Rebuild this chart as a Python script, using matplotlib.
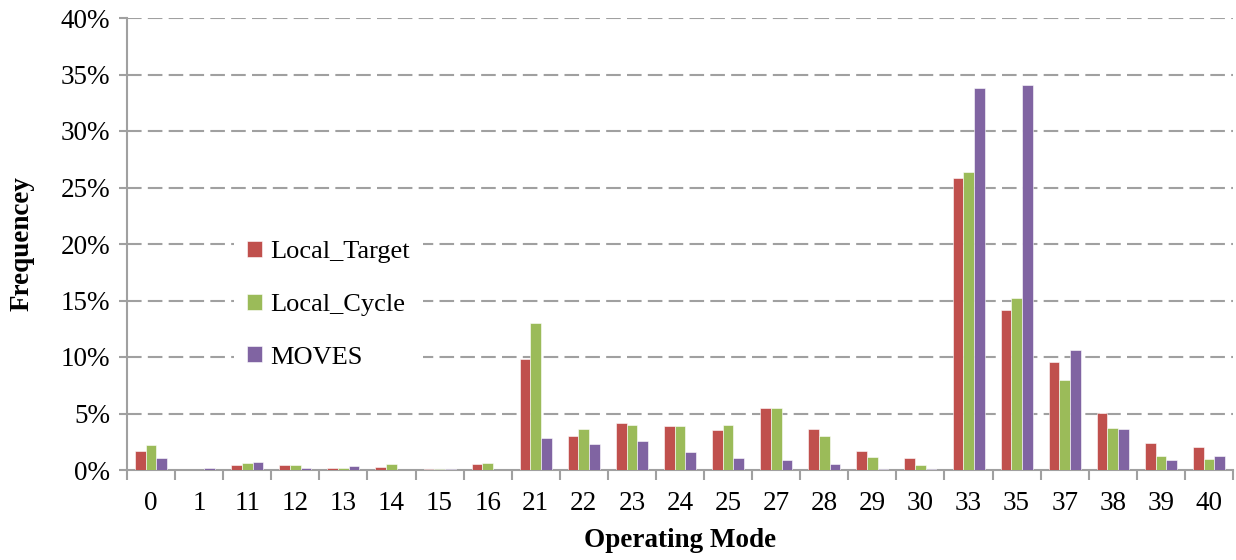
import numpy as np
import matplotlib.pyplot as plt
from matplotlib.ticker import FuncFormatter, MultipleLocator

# Operating mode bins and frequency shares (%)
modes = ['0', '1', '11', '12', '13', '14', '15', '16', '21', '22', '23', '24',
         '25', '27', '28', '29', '30', '33', '35', '37', '38', '39', '40']
local_target = [1.7, 0.0, 0.4, 0.4, 0.15, 0.25, 0.1, 0.55, 9.8, 3.05, 4.15, 3.9,
                3.5, 5.5, 3.6, 1.7, 1.05, 25.85, 14.2, 9.6, 5.05, 2.35, 2.0]
local_cycle = [2.25, 0.0, 0.65, 0.4, 0.15, 0.5, 0.08, 0.65, 13.0, 3.6, 3.95, 3.9,
               3.95, 5.45, 3.0, 1.15, 0.45, 26.4, 15.25, 8.0, 3.75, 1.25, 1.0]
moves = [1.1, 0.2, 0.7, 0.15, 0.33, 0.0, 0.08, 0.0, 2.85, 2.3, 2.55, 1.6,
         1.1, 0.9, 0.5, 0.12, 0.05, 33.8, 34.1, 10.65, 3.65, 0.9, 1.25]

colors = ['#C0504D', '#9BBB59', '#8064A2']
names = ['Local_Target', 'Local_Cycle', 'MOVES']

plt.rcParams['font.family'] = ['Liberation Serif', 'DejaVu Serif']

fig = plt.figure(figsize=(12.36, 5.6), dpi=100)
ax = fig.add_axes([127 / 1236, 1 - 470 / 560, (1233 - 127) / 1236, (470 - 18) / 560])

x = np.arange(len(modes))
w = 0.222
for i, (vals, c, n) in enumerate(zip([local_target, local_cycle, moves], colors, names)):
    ax.bar(x + (i - 1) * w, vals, width=w, color=c, label=n,
           edgecolor='white', linewidth=0.4, zorder=3)

ax.set_xlim(-0.5, len(modes) - 0.5)
ax.set_ylim(0, 40)
ax.yaxis.set_major_locator(MultipleLocator(5))
ax.yaxis.set_major_formatter(FuncFormatter(lambda v, p: f'{v:.0f}%'))
ax.set_xticks(x)
ax.set_xticklabels(modes)
ax.set_xticks(np.arange(-0.5, len(modes), 1), minor=True)
ax.tick_params(axis='x', which='major', length=0, pad=15, labelsize=19.5)
ax.tick_params(axis='x', which='minor', length=7, color='#A0A0A0', width=1.5)
ax.tick_params(axis='y', length=6, color='#A0A0A0', width=1.5, labelsize=19.5, pad=6)

for v in range(5, 41, 5):
    ax.axhline(v, color='#A0A0A0', linestyle=(0, (7, 3)), linewidth=1.5, zorder=1)

for s in ['top', 'right']:
    ax.spines[s].set_visible(False)
for s in ['left', 'bottom']:
    ax.spines[s].set_color('#A0A0A0')
    ax.spines[s].set_linewidth(1.5)

ax.set_xlabel('Operating Mode', fontsize=19.5, fontweight='bold', labelpad=9)
ax.set_ylabel('Frequencey', fontsize=19.5, fontweight='bold', labelpad=19)

leg = ax.legend(loc='upper left', bbox_to_anchor=(0.085, 0.565), frameon=True,
                fontsize=19, handlelength=0.55, handleheight=0.55, handletextpad=0.3,
                labelspacing=1.15, fancybox=False, framealpha=1, borderpad=0.5)
leg.get_frame().set_facecolor('white')
leg.get_frame().set_edgecolor('none')
leg.set_zorder(5)

fig.savefig('out.png', dpi=100)
